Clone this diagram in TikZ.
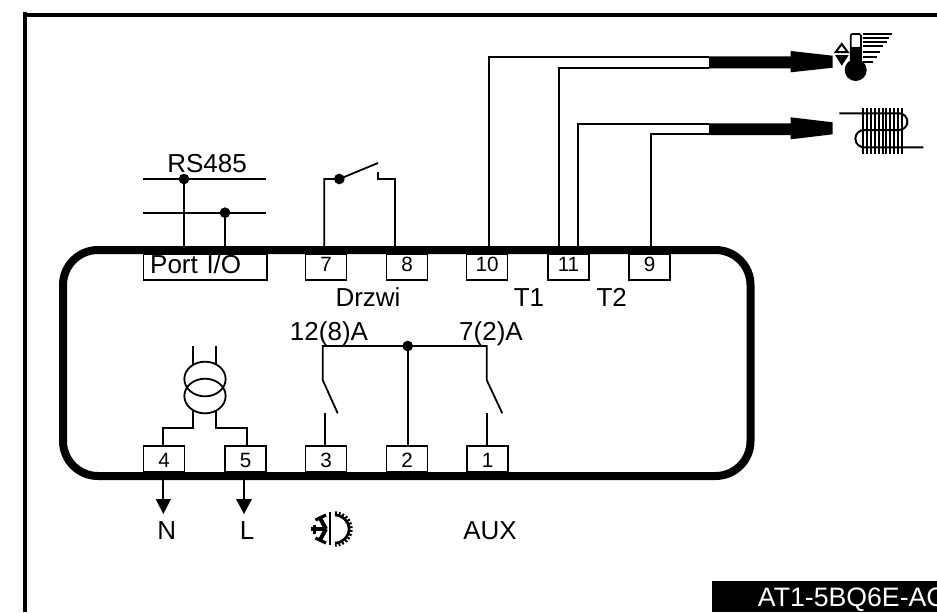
\documentclass[tikz,border=0pt]{standalone}
\usepackage{fontspec}
\usetikzlibrary{shapes.geometric}
\setmainfont{Liberation Sans}
\begin{document}
\begin{tikzpicture}[x=0.75pt,y=-0.75pt,
  wire/.style={line width=1.35pt,line cap=butt,line join=miter},
  frameline/.style={line width=3pt},
  bodyline/.style={line width=6pt},
  junction/.style={circle,fill=black,inner sep=0pt,minimum size=8pt},
  termbase/.style={draw,line width=1.15pt,fill=white,inner sep=0pt,outer sep=0pt,anchor=north west,minimum width=30.75pt,align=center},
  termtop/.style={termbase,font=\fontsize{15.5}{15.5}\selectfont,text height=13.3pt,text depth=6.2pt},
  termbot/.style={termbase,font=\fontsize{15.5}{15.5}\selectfont,text height=16.3pt,text depth=3.2pt},
  lbl/.style={font=\fontsize{19.5}{19.5}\selectfont,anchor=base,inner sep=0pt},
  fatarrow/.style={fill=black,draw=none},
  iconline/.style={line width=1.5pt},
  fin/.style={line width=1.5pt},
  coilring/.style={draw,line width=1.35pt,ellipse,inner sep=0pt,minimum width=31pt,minimum height=26pt}]
\useasboundingbox (0,0) rectangle (937,612);
\fill[white] (0,0) rectangle (937,612);

% outer frame
\coordinate (fTL) at (25,15);
\coordinate (fB) at (25,612);
\coordinate (fT) at (25,12);
\coordinate (fR) at (937,15);
\draw[frameline] (fT) -- (fB);
\draw[frameline] (fTL) -- (fR);

% connection points on the body
\coordinate (wa) at (184,250);
\coordinate (wb) at (225,250);
\coordinate (w7) at (324.3,250);
\coordinate (w8) at (395.3,250);
\coordinate (w10) at (489,250);
\coordinate (w11a) at (559,250);
\coordinate (w11b) at (578.3,250);
\coordinate (w9) at (650.7,250);

% RS485
\node[junction] (ja) at (184,179) {};
\node[junction] (jb) at (225,212.7) {};
\coordinate (r1l) at (143,179);
\coordinate (r1r) at (266,179);
\coordinate (r2l) at (143,212.7);
\coordinate (r2r) at (266,212.7);
\draw[wire] (r1l) -- (r1r);
\draw[wire] (r2l) -- (r2r);
\draw[wire] (ja.center) -- (wa);
\draw[wire] (jb.center) -- (wb);
\node[lbl] (rs) at (207,172.7) {RS485};

% door switch
\node[junction] (jd) at (339.3,179) {};
\coordinate (d1) at (378,163);
\coordinate (d2) at (378,172);
\coordinate (d3) at (378,179);
\draw[wire] (w7) |- (jd.center) -- (d1);
\draw[wire] (w8) |- (d3) -- (d2);

% probe wires
\coordinate (h1) at (709,57);
\coordinate (h2) at (709,67.7);
\coordinate (h3) at (709,124);
\coordinate (h4) at (709,134.3);
\draw[wire] (w10) |- (h1);
\draw[wire] (w11a) |- (h2);
\draw[wire] (w11b) |- (h3);
\draw[wire] (w9) |- (h4);
\fill[fatarrow] (709,56.3) -- (790.7,56.3) -- (790.7,51) -- (832.7,55.7) -- (832.7,67.7) -- (790.7,72.3) -- (790.7,68.3) -- (709,68.3) -- cycle;
\fill[fatarrow] (709,123.3) -- (790.7,123.3) -- (790.7,117.3) -- (832.7,122.3) -- (832.7,134.3) -- (790.7,139.3) -- (790.7,135) -- (709,135) -- cycle;

% thermometer icon
\draw[iconline] (841.7,44) -- (847.6,52) -- (835.8,52) -- cycle;
\fill (835,55) -- (848.7,55) -- (841.8,65.7) -- cycle;
\fill (850,47) rectangle (861.7,62);
\draw[line width=1.3pt,rounded corners=1.2pt] (850.7,60) -- (850.7,33.9) -- (861,33.9) -- (861,60);
\fill (855.7,70) circle[radius=11];
\foreach \yy/\xx in {34/891.7,38.3/889,42.3/886.7,46.3/882.7,51.7/880,56.7/876.7,61.7/873.3}
  \draw[iconline] (862.7,\yy) -- (\xx,\yy);

% coil icon
\foreach \i in {0,...,10}
  \draw[fin] ({863.3+\i*3.85},108.3) -- ({863.3+\i*3.85},154.3);
\draw[iconline] (839.3,113.3) -- (899,113.3) arc[start angle=90,end angle=-90,radius=6.26pt] -- (864,130) arc[start angle=90,end angle=270,radius=6.49pt] -- (923.3,147.3);

% body
\node[termtop,minimum width=92.6pt,text width=92.6pt,align=left,font=\fontsize{19.5}{19.5}\selectfont,text height=14.5pt,text depth=5pt] (port) at (143.5,254) {\hspace*{5pt}Port I/O};
\node[termtop] (t7) at (305.7,254) {7};
\node[termtop] (t8) at (386.7,254) {8};
\node[termtop] (t10) at (466.7,254) {10};
\node[termtop] (t11) at (548,254) {11};
\node[termtop] (t9) at (629,254) {9};
\node[termbot] (t4) at (143.5,446) {4};
\node[termbot] (t5) at (225,446) {5};
\node[termbot] (t3) at (305.7,446) {3};
\node[termbot] (t2) at (386.7,446) {2};
\node[termbot] (t1) at (467,446) {1};
\draw[bodyline,rounded corners=26.25pt] (63,250) rectangle (750.5,476);

% labels
\node[lbl] (ldr) at (368,306.7) {Drzwi};
\node[lbl] (lt1) at (529,306.7) {T1};
\node[lbl] (lt2) at (611.7,306.7) {T2};
\node[lbl] (la12) at (329,340) {12(8)A};
\node[lbl] (la7) at (491,340) {7(2)A};
\node[lbl] (ln) at (166.7,539.3) {N};
\node[lbl] (ll) at (247,539.3) {L};
\node[lbl] (laux) at (490,539.3) {AUX};

% transformer
\node[coilring] (tru) at (205,379) {};
\node[coilring] (trd) at (205,396) {};
\coordinate (s1) at (192.7,346);
\coordinate (s2) at (216.3,346);
\coordinate (s1b) at (192.7,364.5);
\coordinate (s2b) at (216.3,364.5);
\coordinate (s3) at (192.7,410.5);
\coordinate (s4) at (216.3,410.5);
\coordinate (s5) at (192.7,428.3);
\coordinate (s6) at (216.3,428.3);
\coordinate (s7) at (163.3,428.3);
\coordinate (s8) at (246.7,428.3);
\draw[wire] (s1) -- (s1b);
\draw[wire] (s2) -- (s2b);
\draw[wire] (s3) -- (s5) -- (s7) -- (s7 |- t4.north);
\draw[wire] (s4) -- (s6) -- (s8) -- (s8 |- t5.north);

% relays
\coordinate (rl) at (322.7,346);
\coordinate (rr) at (486.7,346);
\node[junction] (jr) at (407.7,346) {};
\coordinate (rl1) at (322.7,380);
\coordinate (rl2) at (337.7,413.3);
\coordinate (rr1) at (486.7,380);
\coordinate (rr2) at (502.3,413.3);
\coordinate (c3) at (325,413);
\coordinate (c1) at (486.7,413);
\draw[wire] (rl2) -- (rl1) -- (rl) -- (rr) -- (rr1) -- (rr2);
\draw[wire] (jr.center) -- (jr.center |- t2.north);
\draw[wire] (c3) -- (c3 |- t3.north);
\draw[wire] (c1) -- (c1 |- t1.north);

% N and L arrows
\coordinate (an) at (163.3,480);
\coordinate (al) at (244,480);
\coordinate (an2) at (163.3,500);
\coordinate (al2) at (244,500);
\draw[wire] (an) -- (an2);
\draw[wire] (al) -- (al2);
\fill (155.7,499) -- (171,499) -- (163.3,514) -- cycle;
\fill (236,499) -- (252,499) -- (244,514) -- cycle;

% compressor / defrost icon
\draw[line width=0.9pt] (330,511.7) -- (330,545);
\draw[line width=3pt] (311,529) -- (326,529);
\draw[line width=3pt] (326,529) -- (320,518);
\draw[line width=3pt] (326,529) -- (320,540);
\draw[line width=2.4pt] (314.5,524.5) -- (314.5,533.5);
\draw[line width=2.4pt] (315.5,520) -- (326,515);
\draw[line width=2.4pt] (315.5,538) -- (326,543);
\draw[line width=2pt] (335,515) arc[start angle=90,end angle=-90,radius=10.5pt];
\draw[line width=2.6pt,dash pattern=on 1.4pt off 1.4pt] (335,513) arc[start angle=90,end angle=-90,radius=12pt];

% footer
\fill (712,581) rectangle (937,612);
\begin{scope}
\clip (712,581) rectangle (937,612);
\node[font=\fontsize{20}{20}\selectfont,text=white,anchor=base west,inner sep=0pt] (foot) at (757.7,606) {AT1-5BQ6E-AC};
\end{scope}
\end{tikzpicture}
\end{document}
